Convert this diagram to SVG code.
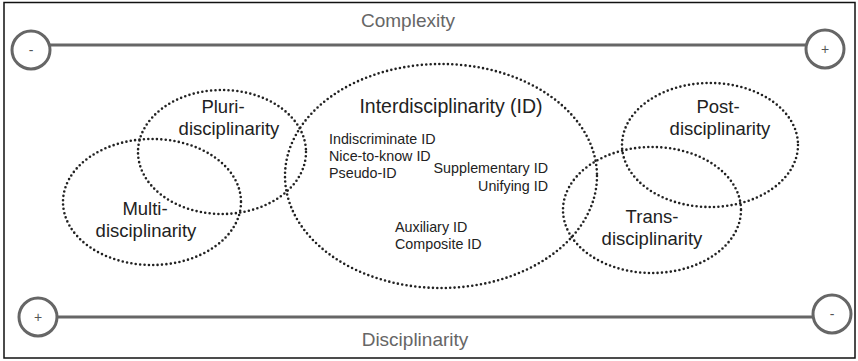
<svg xmlns="http://www.w3.org/2000/svg" width="858" height="361" viewBox="0 0 858 361">
<style>
text{font-family:"Liberation Sans",Arial,sans-serif}
.axis{stroke:#666;stroke-width:3;fill:none}
.knob{stroke:#666;stroke-width:3;fill:#fff}
.sign{font-size:14px;fill:#555;text-anchor:middle}
.axlab{font-size:19px;fill:#666;text-anchor:middle}
.ell{fill:none;stroke:#222;stroke-width:2.6;stroke-dasharray:0 4.4;stroke-linecap:round}
.lab{font-size:18.5px;fill:#222;text-anchor:middle}
.title{font-size:19.5px;fill:#222;text-anchor:middle}
.sub{font-size:14.3px;fill:#222}
</style>
<rect x="0" y="0" width="858" height="361" fill="#fff"/>
<rect x="4" y="2.5" width="851" height="355.5" fill="#fff" stroke="#111" stroke-width="1.5"/>
<g id="complexity-axis">
<line class="axis" x1="49" y1="45" x2="806" y2="45"/>
<circle class="knob" cx="31" cy="50" r="19"/>
<text class="sign" x="31" y="55">-</text>
<circle class="knob" cx="825" cy="49" r="19"/>
<text class="sign" x="825" y="54">+</text>
<text class="axlab" x="408" y="27">Complexity</text>
</g>
<g id="disciplinarity-axis">
<line class="axis" x1="57" y1="317" x2="813" y2="317"/>
<circle class="knob" cx="38" cy="317" r="19"/>
<text class="sign" x="38" y="322">+</text>
<circle class="knob" cx="832" cy="314" r="19"/>
<text class="sign" x="832" y="319">-</text>
<text class="axlab" x="415" y="346">Disciplinarity</text>
</g>
<g id="connectors"></g>
<g id="pluri">
<ellipse class="ell" cx="222" cy="152" rx="84" ry="62"/>
<text class="lab" x="223" y="113">Pluri-</text>
<text class="lab" x="229" y="135">disciplinarity</text>
</g>
<g id="multi">
<ellipse class="ell" cx="152" cy="202" rx="89" ry="63"/>
<text class="lab" x="145" y="215">Multi-</text>
<text class="lab" x="146" y="237">disciplinarity</text>
</g>
<g id="inter">
<ellipse class="ell" cx="441" cy="176" rx="156" ry="112"/>
<text class="title" x="451" y="113">Interdisciplinarity (ID)</text>
<text class="sub" x="329" y="144">Indiscriminate ID</text>
<text class="sub" x="329" y="161">Nice-to-know ID</text>
<text class="sub" x="329" y="178">Pseudo-ID</text>
<text class="sub" x="548" y="173" text-anchor="end">Supplementary ID</text>
<text class="sub" x="548" y="191" text-anchor="end">Unifying ID</text>
<text class="sub" x="395" y="232">Auxiliary ID</text>
<text class="sub" x="395" y="249">Composite ID</text>
</g>
<g id="post">
<ellipse class="ell" cx="710" cy="145" rx="88" ry="62"/>
<text class="lab" x="718" y="113">Post-</text>
<text class="lab" x="720" y="135">disciplinarity</text>
</g>
<g id="trans">
<ellipse class="ell" cx="652" cy="210" rx="89" ry="63"/>
<text class="lab" x="652" y="223">Trans-</text>
<text class="lab" x="652" y="245">disciplinarity</text>
</g>
</svg>
